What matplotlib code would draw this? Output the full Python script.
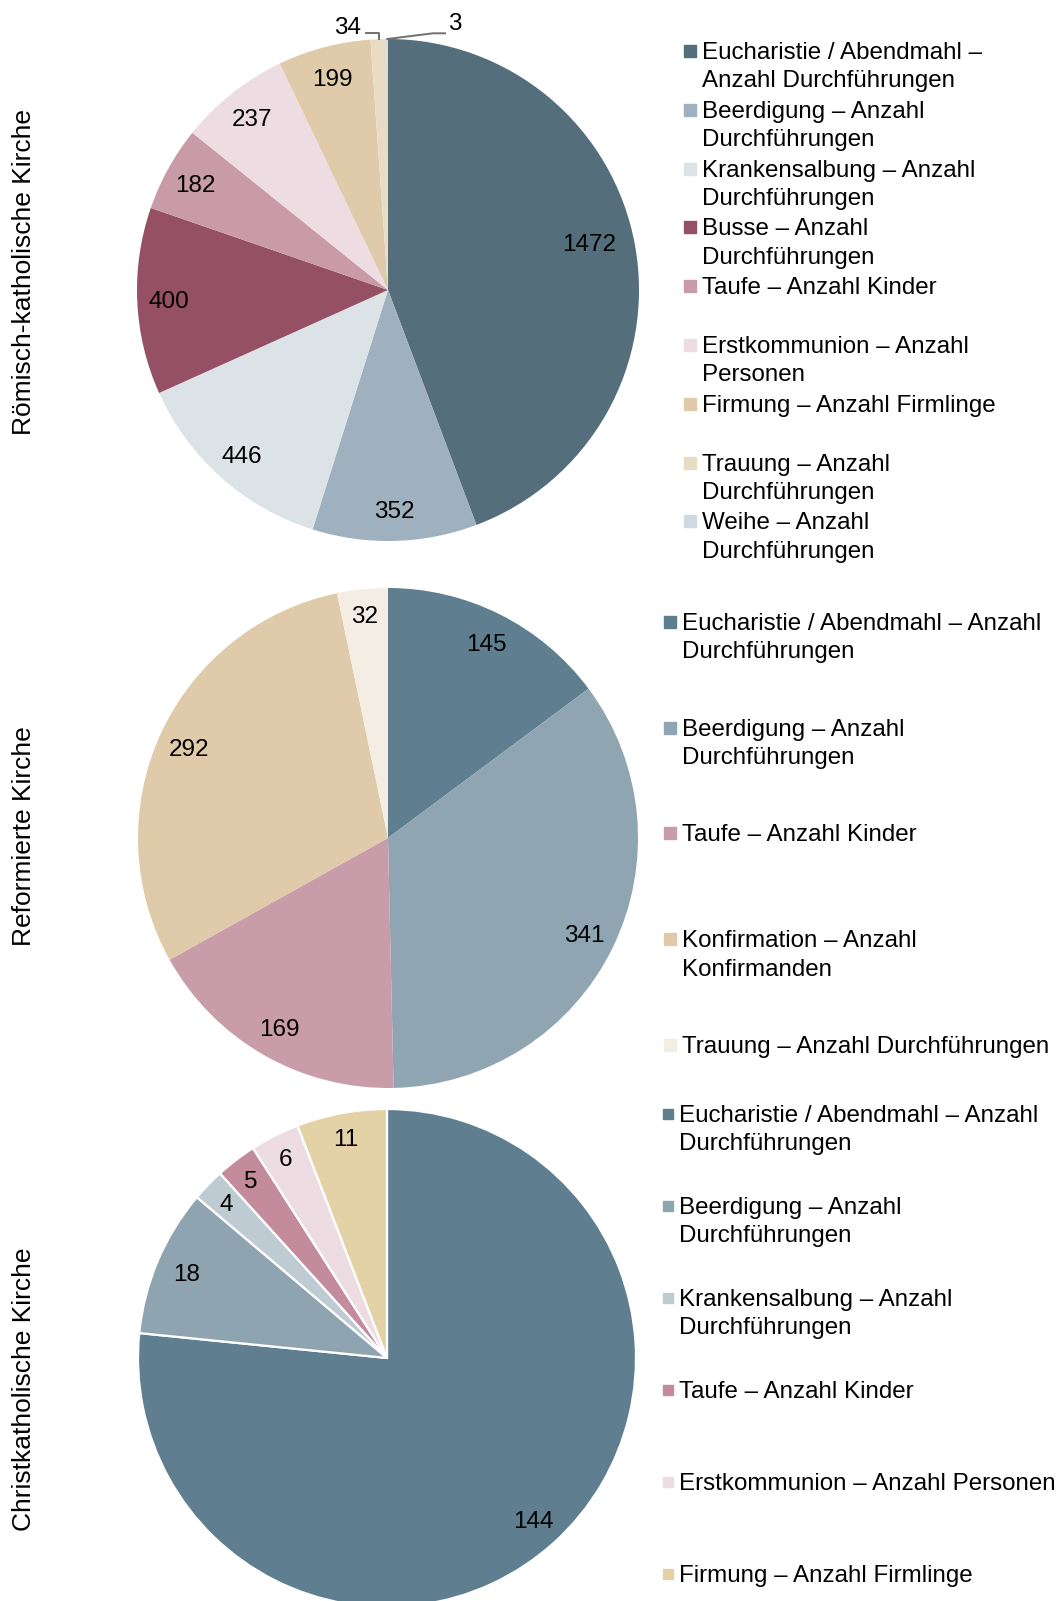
import numpy as np
import matplotlib
matplotlib.use('Agg')
import matplotlib.pyplot as plt
from matplotlib.patches import Rectangle

plt.rcParams['font.family'] = ['Liberation Sans', 'DejaVu Sans']

W, H = 1062, 1601

# Römisch-katholische Kirche
rk_title = 'Römisch-katholische Kirche'
rk_labels = ['Eucharistie / Abendmahl –\nAnzahl Durchführungen',
             'Beerdigung – Anzahl\nDurchführungen',
             'Krankensalbung – Anzahl\nDurchführungen',
             'Busse – Anzahl\nDurchführungen',
             'Taufe – Anzahl Kinder',
             'Erstkommunion – Anzahl\nPersonen',
             'Firmung – Anzahl Firmlinge',
             'Trauung – Anzahl\nDurchführungen',
             'Weihe – Anzahl\nDurchführungen']
rk_values = [1472, 352, 446, 400, 182, 237, 199, 34, 3]
rk_colors = ['#546e7c', '#9fb1be', '#dce3e7', '#955066', '#c99ba8',
             '#eddde2', '#dfcbaa', '#e8dcc5', '#d0d9e0']

# Reformierte Kirche
ref_title = 'Reformierte Kirche'
ref_labels = ['Eucharistie / Abendmahl – Anzahl\nDurchführungen',
              'Beerdigung – Anzahl\nDurchführungen',
              'Taufe – Anzahl Kinder',
              'Konfirmation – Anzahl\nKonfirmanden',
              'Trauung – Anzahl Durchführungen']
ref_values = [145, 341, 169, 292, 32]
ref_colors = ['#5f7e8f', '#8fa5b2', '#c99ca9', '#dfcaa9', '#f3ede3']

# Christkatholische Kirche
ck_title = 'Christkatholische Kirche'
ck_labels = ['Eucharistie / Abendmahl – Anzahl\nDurchführungen',
             'Beerdigung – Anzahl\nDurchführungen',
             'Krankensalbung – Anzahl\nDurchführungen',
             'Taufe – Anzahl Kinder',
             'Erstkommunion – Anzahl Personen',
             'Firmung – Anzahl Firmlinge']
ck_values = [144, 18, 4, 5, 6, 11]
ck_colors = ['#5f7e8f', '#8fa4b1', '#bfcbd3', '#c38b9b', '#eddce1', '#e3d2a6']

fig = plt.figure(figsize=(W / 100, H / 100), dpi=100)

# overlay in pixel coordinates (y down) for legends and side titles
lay = fig.add_axes([0, 0, 1, 1])
lay.set_xlim(0, W)
lay.set_ylim(H, 0)
lay.axis('off')

LBL_FS = 17.5
LEG_FS = 17.4
TTL_FS = 19.0


def draw_pie(values, colors, cx, cy, r, edge=None):
    ax = fig.add_axes([(cx - r) / W, (H - cy - r) / H, 2 * r / W, 2 * r / H])
    wedges, _ = ax.pie(values, colors=colors, startangle=90, counterclock=False,
                       radius=1,
                       wedgeprops=dict(linewidth=1.6 if edge else 0,
                                       edgecolor=edge if edge else 'none'))
    ax.set_xlim(-1, 1)
    ax.set_ylim(-1, 1)
    ax.axis('off')
    total = sum(values)
    for w, v in zip(wedges, values):
        share = v / total
        if share < 0.015:
            continue
        mid = (w.theta1 + w.theta2) / 2
        d = 0.875
        if share < 0.065 and v < 100:
            d = 0.9
        if share > 0.4 and edge is None:
            # big slice: label sits a bit further in and higher
            d = 0.825
            mid += 3
        a = np.deg2rad(mid)
        ax.text(d * np.cos(a), d * np.sin(a), str(v), ha='center',
                va='center_baseline', fontsize=LBL_FS, color='black')
    return ax, wedges


def draw_legend(labels, colors, x, y0, step, size):
    for i, (lab, col) in enumerate(zip(labels, colors)):
        yc = y0 + i * step
        lay.add_patch(Rectangle((x, yc - size / 2), size, size, color=col))
        lay.text(x + size + 6, yc - 9, lab, ha='left', va='top',
                 fontsize=LEG_FS, linespacing=1.38, color='black')


# pie 1 with leader lines for the small slices
ax1, w1 = draw_pie(rk_values, rk_colors, 388, 290, 251)
lead_col = '#707070'
r1 = 251
# 34
a = np.deg2rad((w1[7].theta1 + w1[7].theta2) / 2)
ye = (290 - 33.3) / r1
ax1.plot([np.cos(a), np.cos(a), (366 - 388) / r1], [np.sin(a), ye, ye],
         color=lead_col, lw=1.4, clip_on=False)
ax1.text((348 - 388) / r1, (290 - 26) / r1, str(rk_values[7]), ha='center',
         va='center_baseline', fontsize=LBL_FS)
# 3
a = np.deg2rad((w1[8].theta1 + w1[8].theta2) / 2)
ax1.plot([np.cos(a), (433 - 388) / r1, (445 - 388) / r1], [np.sin(a), ye, ye],
         color=lead_col, lw=1.4, clip_on=False)
ax1.text((455 - 388) / r1, (290 - 21) / r1, str(rk_values[8]), ha='center',
         va='center_baseline', fontsize=LBL_FS)

draw_pie(ref_values, ref_colors, 388, 838, 250)
draw_pie(ck_values, ck_colors, 387, 1358, 249, edge='white')

draw_legend(rk_labels, rk_colors, 684, 51, 58.8, 12)
draw_legend(ref_labels, ref_colors, 664, 621.7, 105.8, 12)
draw_legend(ck_labels, ck_colors, 663, 1114, 91.9, 10)

for t, yc in [(rk_title, 272), (ref_title, 836), (ck_title, 1389)]:
    lay.text(24, yc, t, rotation=90, ha='center', va='center',
             fontsize=TTL_FS, color='black')

fig.savefig('out.png', dpi=100)
